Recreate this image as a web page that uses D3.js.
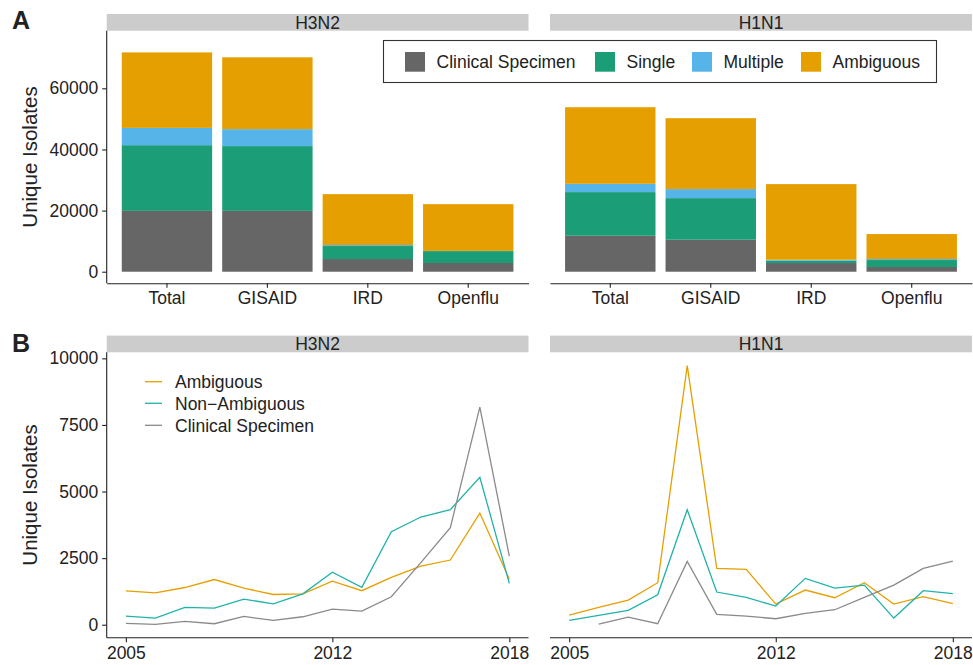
<!DOCTYPE html>
<html>
<head>
<meta charset="utf-8">
<script src="https://cdn.jsdelivr.net/npm/d3@7"></script>
<style>
  body { margin: 0; background: #fff; }
  svg text { font-family: "Liberation Sans", Arial, sans-serif; fill: #222; }
</style>
</head>
<body>
<script>
(function all(){
  //bar chart data (panel A)
  var sources = ["Total", "GISAID", "IRD", "Openflu"];
  var barKeys = ["Clinical Specimen", "Single", "Multiple", "Ambiguous"];
  var barColors = ["#666666", "#1b9e77", "#56b4e9", "#e69f00"];
  //values per source, in barKeys order
  var h3Clinical  = [19900, 19900, 4150, 2850];
  var h3Single    = [21500, 21200, 4250, 3900];
  var h3Multiple  = [5650, 5550, 330, 50];
  var h3Ambiguous = [24700, 23500, 16650, 15300];
  var h1Clinical  = [11760, 10460, 2840, 1540];
  var h1Single    = [14290, 13620, 750, 2280];
  var h1Multiple  = [2710, 2950, 330, 330];
  var h1Ambiguous = [25060, 23200, 24740, 8170];
  var barTicks = [0, 20000, 40000, 60000];

  //line chart data (panel B)
  var years = [2005, 2006, 2007, 2008, 2009, 2010, 2011, 2012, 2013, 2014, 2015, 2016, 2017, 2018];
  var h3Ambig    = [1272, 1197, 1397, 1696, 1372, 1135, 1160, 1633, 1277, 1779, 2203, 2429, 4193, 1704];
  var h3NonAmbig = [324, 249, 648, 623, 960, 786, 1160, 1970, 1404, 3491, 4043, 4317, 5536, 1554];
  var h3Clin     = [50, 12, 125, 37, 312, 162, 299, 586, 514, 1051, 2330, 3641, 8167, 2579];
  var h1Ambig    = [363, 651, 926, 1577, 9725, 2115, 2078, 776, 1302, 1014, 1577, 776, 1051, 788];
  var h1NonAmbig = [163, 350, 538, 1126, 4318, 1227, 1026, 701, 1740, 1377, 1489, 250, 1277, 1164];
  var h1Clin     = [null, 20, 288, 38, 2378, 388, 325, 225, 426, 563, 1026, 1489, 2115, 2390];
  var lineKeys = ["Ambiguous", "Non\u2212Ambiguous", "Clinical Specimen"];
  var lineColors = ["#e69f00", "#20b2aa", "#8a8a8a"];
  var lineTicksY = [0, 2500, 5000, 7500, 10000];
  var lineTicksX = [2005, 2012, 2018];

  var width = 973, height = 665;
  var svg = d3.select("body").append("svg")
    .attr("width", width).attr("height", height);

  //panel geometry
  var panelsX = [[106.7, 528.5], [550, 972]];
  var aTop = 30.7, aBottom = 283.3, bTop = 352.3, bBottom = 637.7;
  var stripH = 16.7;
  var fs = "17.5px";

  var yA = d3.scaleLinear().domain([-3790, 78850]).range([aBottom, aTop]);
  var yB = d3.scaleLinear().domain([-487, 10227]).range([bBottom, bTop]);

  //panel letters
  svg.append("text").attr("x", 12).attr("y", 28.5)
    .style("font-size", "25px").style("font-weight", "bold").text("A");
  svg.append("text").attr("x", 12).attr("y", 351.5)
    .style("font-size", "25px").style("font-weight", "bold").text("B");

  //y titles
  [[aTop, aBottom], [bTop, bBottom]].forEach(function(r){
    svg.append("text")
      .attr("transform", "translate(37," + ((r[0] + r[1]) / 2) + ") rotate(-90)")
      .attr("text-anchor", "middle")
      .style("font-size", "20.5px")
      .text("Unique Isolates");
  });

  function strip(x0, x1, top, label){
    svg.append("rect").attr("x", x0).attr("y", top - stripH)
      .attr("width", x1 - x0).attr("height", stripH).attr("fill", "#cccccc");
    svg.append("text").attr("x", (x0 + x1) / 2).attr("y", top - stripH / 2)
      .attr("text-anchor", "middle").attr("dy", "0.36em")
      .style("font-size", fs).text(label);
  }

  function styleAxis(g){
    g.selectAll(".domain").attr("stroke", "#222").attr("stroke-width", 1.1);
    g.selectAll(".tick line").attr("stroke", "#222").attr("stroke-width", 1.1);
    g.selectAll(".tick text").style("font-size", fs).attr("fill", "#222");
  }

  //bar panel
  function barPanel(i, label, cols){
    var x0 = panelsX[i][0], x1 = panelsX[i][1];
    strip(x0, x1, aTop, label);
    var x = d3.scaleBand().domain(sources).range([x0, x1])
      .paddingInner(0.1).paddingOuter(0.15);
    var rows = sources.map(function(s, j){
      var r = {source: s};
      barKeys.forEach(function(k, m){ r[k] = cols[m][j]; });
      return r;
    });
    var series = d3.stack().keys(barKeys)(rows);
    svg.append("g").selectAll("g").data(series).enter().append("g")
      .attr("fill", function(d, m){ return barColors[m]; })
      .selectAll("rect").data(function(d){ return d; }).enter().append("rect")
      .attr("x", function(d){ return x(d.data.source); })
      .attr("width", x.bandwidth())
      .attr("y", function(d){ return yA(d[1]); })
      .attr("height", function(d){ return yA(d[0]) - yA(d[1]); });

    var xAxis = svg.append("g").attr("transform", "translate(0," + aBottom + ")")
      .call(d3.axisBottom(x).tickSize(4.5).tickSizeOuter(0).tickPadding(4));
    styleAxis(xAxis);
    if (i === 0){
      var yAxis = svg.append("g").attr("transform", "translate(" + x0 + ",0)")
        .call(d3.axisLeft(yA).tickValues(barTicks).tickFormat(d3.format("d"))
          .tickSize(4.5).tickSizeOuter(0).tickPadding(4));
      yAxis.select(".domain").attr("d", "M0," + aTop + "V" + aBottom);
      styleAxis(yAxis);
    }
  }

  barPanel(0, "H3N2", [h3Clinical, h3Single, h3Multiple, h3Ambiguous]);
  barPanel(1, "H1N1", [h1Clinical, h1Single, h1Multiple, h1Ambiguous]);

  //bar legend
  var legA = svg.append("g");
  legA.append("rect").attr("x", 383.5).attr("y", 40.5).attr("width", 553).attr("height", 42)
    .attr("fill", "#fff").attr("stroke", "#333").attr("stroke-width", 1.1);
  var legAx = [405, 595, 692, 801];
  barKeys.forEach(function(k, m){
    legA.append("rect").attr("x", legAx[m]).attr("y", 52).attr("width", 20).attr("height", 19.7)
      .attr("fill", barColors[m]);
    legA.append("text").attr("x", legAx[m] + 31.5).attr("y", 62)
      .attr("dy", "0.36em").style("font-size", fs).text(k);
  });

  //line panel
  function linePanel(i, label, cols){
    var x0 = panelsX[i][0], x1 = panelsX[i][1];
    strip(x0, x1, bTop, label);
    var x = d3.scaleLinear().domain([2004.35, 2018.65]).range([x0, x1]);
    var line = d3.line()
      .defined(function(d){ return d != null; })
      .x(function(d, j){ return x(years[j]); })
      .y(function(d){ return yB(d); });
    cols.forEach(function(c, m){
      svg.append("path").datum(c).attr("d", line)
        .attr("fill", "none").attr("stroke", lineColors[m]).attr("stroke-width", 1.3);
    });
    var xAxis = svg.append("g").attr("transform", "translate(0," + bBottom + ")")
      .call(d3.axisBottom(x).tickValues(lineTicksX).tickFormat(d3.format("d"))
        .tickSize(4.5).tickSizeOuter(0).tickPadding(4));
    xAxis.select(".domain").attr("d", "M" + x0 + ",0H" + x1);
    styleAxis(xAxis);
    if (i === 0){
      var yAxis = svg.append("g").attr("transform", "translate(" + x0 + ",0)")
        .call(d3.axisLeft(yB).tickValues(lineTicksY).tickFormat(d3.format("d"))
          .tickSize(4.5).tickSizeOuter(0).tickPadding(4));
      yAxis.select(".domain").attr("d", "M0," + bTop + "V" + bBottom);
      styleAxis(yAxis);
    }
  }

  linePanel(0, "H3N2", [h3Ambig, h3NonAmbig, h3Clin]);
  linePanel(1, "H1N1", [h1Ambig, h1NonAmbig, h1Clin]);

  //line legend
  var legBy = [381.7, 403.3, 425.3];
  lineKeys.forEach(function(k, m){
    svg.append("line").attr("x1", 145).attr("x2", 162)
      .attr("y1", legBy[m]).attr("y2", legBy[m])
      .attr("stroke", lineColors[m]).attr("stroke-width", 1.3);
    svg.append("text").attr("x", 175).attr("y", legBy[m])
      .attr("dy", "0.36em").style("font-size", fs).text(k);
  });
})();
</script>
</body>
</html>
